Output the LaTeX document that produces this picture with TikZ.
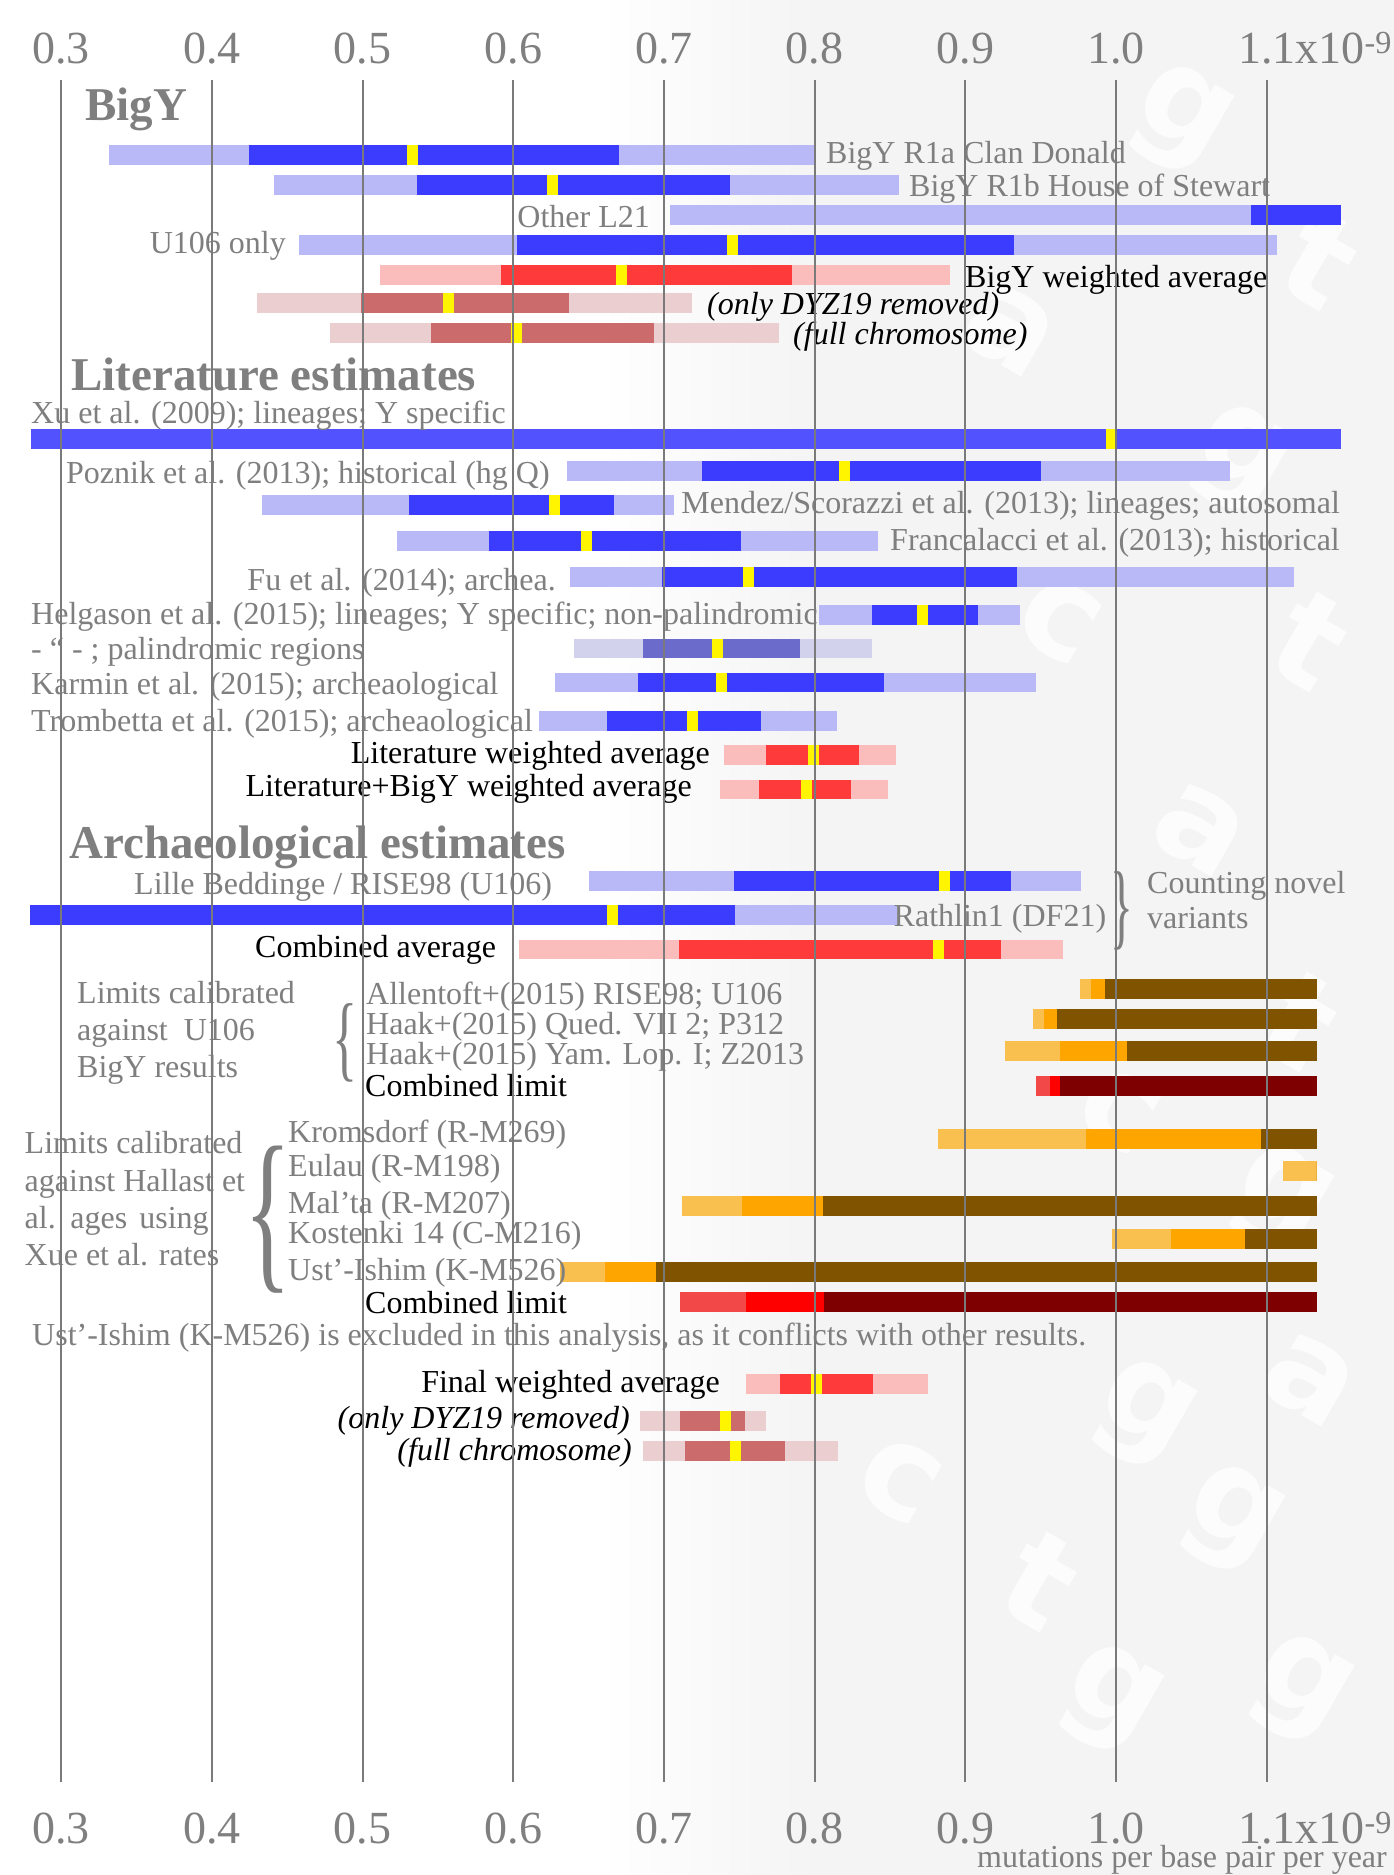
\documentclass[tikz,border=0pt]{standalone}
\usepackage{fontspec}
\setmainfont{Liberation Serif}
\newfontfamily\wmfont{DejaVu Sans}
\definecolor{darkblue}{HTML}{3C3CFF}
\definecolor{lightblue}{HTML}{B9B9F7}
\definecolor{xublue}{HTML}{5252FF}
\definecolor{palinddark}{HTML}{6B6BCB}
\definecolor{palindlight}{HTML}{D2D2EC}
\definecolor{avgred}{HTML}{FF3A3A}
\definecolor{avgpink}{HTML}{FBBCBC}
\definecolor{dustyred}{HTML}{CC6B6B}
\definecolor{dustypink}{HTML}{EBCFD0}
\definecolor{limlight}{HTML}{F9C04F}
\definecolor{limmid}{HTML}{FFA500}
\definecolor{limbrown}{HTML}{7F5300}
\definecolor{comblight}{HTML}{F24848}
\definecolor{combred}{HTML}{FF0000}
\definecolor{combdark}{HTML}{7F0000}
\definecolor{markyellow}{HTML}{FFF500}
\definecolor{txtgray}{HTML}{7F7F7F}
\definecolor{gridgray}{HTML}{7A7A7A}
\definecolor{bggray}{HTML}{F4F4F4}
\definecolor{wmwhite}{HTML}{FCFCFC}
\usetikzlibrary{positioning}

% bar: y, light left, dark left, dark right, light right, mean, light colour, dark colour
\newcommand{\ratebar}[8]{%
  \fill[#7] (#2,#1-9.6) rectangle (#5,#1+9.6);
  \fill[#8] (#3,#1-9.6) rectangle (#4,#1+9.6);
  \fill[markyellow] (#6-5.5,#1-9.6) rectangle (#6+5.5,#1+9.6);
}
% lower limit: y, light from, mid from, dark from, colours
\newcommand{\limbar}[7]{%
  \fill[#5] (#2,#1-9.6) rectangle (#3,#1+9.6);
  \fill[#6] (#3,#1-9.6) rectangle (#4,#1+9.6);
  \fill[#7] (#4,#1-9.6) rectangle (1316.6,#1+9.6);
}

\begin{document}
\begin{tikzpicture}[x=1pt, y=-1pt,
  lbl/.style={text=txtgray, inner sep=0pt, font=\fontsize{32}{37}\selectfont},
  avg/.style={text=black, inner sep=0pt, font=\fontsize{32}{37}\selectfont},
  ital/.style={avg, font=\fontsize{32}{37}\selectfont\itshape},
  ttl/.style={text=txtgray, inner sep=0pt, font=\fontsize{47}{56}\selectfont\bfseries},
  axlbl/.style={text=txtgray, inner sep=0pt, font=\fontsize{46}{55}\selectfont},
  brc/.style={text=txtgray, inner sep=0pt},
  wmark/.style={text=wmwhite, inner sep=0pt, font=\fontsize{130}{130}\wmfont\bfseries},
  gridline/.style={draw=gridgray, line width=2pt},
]
\useasboundingbox (0,0) rectangle (1394,1875);

% background
\fill[white] (0,0) rectangle (1394,1875);
\shade[left color=white, right color=bggray] (600,0) rectangle (820,1875);
\fill[bggray] (820,0) rectangle (1394,1875);
\foreach \px/\py/\ch in {1180/120/g, 1320/260/t, 1010/330/a, 1240/460/g, 1310/640/t,
  1060/620/c, 1200/830/a, 1300/1020/t, 1120/1110/c, 1280/1200/g,
  1143/1415/g, 1310/1380/a, 1040/1580/t, 1231/1520/g, 900/1480/c,
  1110/1700/g, 1300/1690/g}
  \node[wmark, rotate=-30] at (\px,\py) {\ch};

% BigY
\node[ttl, anchor=base west] (bigy) at (85,120) {BigY};
\ratebar{155}{109.4}{249}{619}{816}{412.5}{lightblue}{darkblue}
\ratebar{185}{273.7}{417}{730}{899}{552.5}{lightblue}{darkblue}
\fill[lightblue] (669.6,205.4) rectangle (1251,224.6);
\fill[darkblue] (1251,205.4) rectangle (1340.5,224.6);
\ratebar{245}{298.7}{517}{1014}{1277}{732.7}{lightblue}{darkblue}
\ratebar{275}{380}{501}{791.6}{950}{621}{avgpink}{avgred}
\ratebar{303}{257}{360.7}{568.8}{692}{448.8}{dustypink}{dustyred}
\ratebar{333}{329.5}{431}{654}{778.8}{516.5}{dustypink}{dustyred}

\node[lbl, anchor=base west] (donald) at (826,163) {BigY R1a Clan Donald};
\node[lbl, anchor=base west] (stewart) at (909,196) {BigY R1b House of Stewart};
\node[lbl, anchor=base east] (l21) at (650,227) {Other L21};
\node[lbl, anchor=base east] (u106) at (286,253) {U106 only};
\node[avg, anchor=base west] (bigyavg) at (965,287) {BigY weighted average};
\node[ital, anchor=base west] (dyz1) at (707,314) {(only DYZ19 removed)};
\node[ital, anchor=base west] (full1) at (793,344) {(full chromosome)};

% Literature
\node[ttl, anchor=base west] (lit) at (71,390) {Literature estimates};
\ratebar{439}{31}{31}{1340.5}{1340.5}{1111}{xublue}{xublue}
\ratebar{471}{567}{702}{1041}{1230}{844}{lightblue}{darkblue}
\ratebar{505}{261.6}{409}{614}{674}{554}{lightblue}{darkblue}
\ratebar{541}{397}{489}{741}{878}{586}{lightblue}{darkblue}
\ratebar{577}{570}{662}{1016.5}{1294}{748}{lightblue}{darkblue}
\ratebar{615}{818.6}{871.8}{977.6}{1020}{922.5}{lightblue}{darkblue}
\ratebar{648.5}{573.7}{643}{799.6}{872}{717}{palindlight}{palinddark}
\ratebar{682.5}{555}{637.5}{884}{1035.5}{721.7}{lightblue}{darkblue}
\ratebar{721}{539}{607}{761}{837}{692}{lightblue}{darkblue}
\ratebar{755}{723.5}{765.5}{859}{896}{813.7}{avgpink}{avgred}
\ratebar{789.5}{719.5}{759}{851}{888}{806.5}{avgpink}{avgred}

\node[lbl, anchor=base west] (xu) at (31,423) {Xu et al. (2009); lineages; Y specific};
\node[lbl, anchor=base west] (poznik) at (66,483) {Poznik et al. (2013); historical (hg Q)};
\node[lbl, anchor=base east] (mendez) at (1340,513) {Mendez/Scorazzi et al. (2013); lineages; autosomal};
\node[lbl, anchor=base west] (franc) at (890,550) {Francalacci et al. (2013); historical};
\node[lbl, anchor=base east] (fu) at (556,590) {Fu et al. (2014); archea.};
\node[lbl, anchor=base west] (helg) at (31,624) {Helgason et al. (2015); lineages; Y specific; non-palindromic};
\node[lbl, anchor=base west] (palind) at (31,659) {- “ - ; palindromic regions};
\node[lbl, anchor=base west] (karmin) at (31,694) {Karmin et al. (2015); archeaological};
\node[lbl, anchor=base west] (tromb) at (31,731) {Trombetta et al. (2015); archeaological};
\node[avg, anchor=base east] (litavg) at (710,763) {Literature weighted average};
\node[avg, anchor=base east] (litbigy) at (692,796) {Literature+BigY weighted average};

% Archaeological
\node[ttl, anchor=base west] (arch) at (69,858) {Archaeological estimates};
\ratebar{881}{589}{734}{1011}{1080.7}{944}{lightblue}{darkblue}
\ratebar{915}{29.5}{29.5}{735}{897}{612}{lightblue}{darkblue}
\ratebar{949.5}{518.8}{678.6}{1001}{1063}{938.5}{avgpink}{avgred}

\node[lbl, anchor=base west] (lille) at (134,894) {Lille Beddinge / RISE98 (U106)};
\node[lbl, anchor=base west] (rathlin) at (893.5,926) {Rathlin1 (DF21)};
\node[brc, font=\fontsize{95}{95}\selectfont, xscale=0.5] (novelbrace) at (1122,911) {\}};
\node[lbl, anchor=base west, align=left] (novel) at (1147,893) {Counting novel};
\node[lbl, anchor=base west] (novel2) at (1147,928) {variants};
\node[avg, anchor=base west] (combavg) at (255,957) {Combined average};

\limbar{989}{1080}{1091}{1104.6}{limlight}{limmid}{limbrown}
\limbar{1019}{1033}{1043.5}{1056.8}{limlight}{limmid}{limbrown}
\limbar{1051}{1005}{1059.5}{1126.7}{limlight}{limmid}{limbrown}
\limbar{1086}{1035.5}{1049.7}{1060}{comblight}{combred}{combdark}

\node[lbl, anchor=base west] (calib1) at (77,1003) {Limits calibrated};
\node[lbl, anchor=base west] (calib2) at (77,1040) {against~ U106};
\node[lbl, anchor=base west] (calib3) at (77,1077) {BigY results};
\node[brc, font=\fontsize{95}{95}\selectfont, xscale=0.55] (u106brace) at (345,1043) {\{};
\node[lbl, anchor=base west] (allen) at (366,1004) {Allentoft+(2015) RISE98; U106};
\node[lbl, anchor=base west] (qued) at (366,1034) {Haak+(2015) Qued. VII 2; P312};
\node[lbl, anchor=base west] (yam) at (366,1064) {Haak+(2015) Yam. Lop. I; Z2013};
\node[avg, anchor=base west] (comblim1) at (365,1096) {Combined limit};

\limbar{1139}{937.7}{1085.6}{1260.9}{limlight}{limmid}{limbrown}
\limbar{1171}{1283.4}{1316.6}{1316.6}{limlight}{limmid}{limbrown}
\limbar{1206}{681.7}{741.6}{822.6}{limlight}{limmid}{limbrown}
\limbar{1239}{1111.7}{1171.4}{1244.5}{limlight}{limmid}{limbrown}
\limbar{1272}{560}{605}{656}{limlight}{limmid}{limbrown}
\limbar{1302}{679.5}{745.6}{823.5}{comblight}{combred}{combdark}

\node[lbl, anchor=base west] (hall1) at (24.5,1153) {Limits calibrated};
\node[lbl, anchor=base west] (hall2) at (24.5,1191) {against Hallast et};
\node[lbl, anchor=base west] (hall3) at (24.5,1228) {al.\hspace{4pt} ages\hspace{4pt} using};
\node[lbl, anchor=base west] (hall4) at (24.5,1265) {Xue et al. rates};
\node[brc, font=\fontsize{178}{178}\selectfont, xscale=0.55] (hallbrace) at (268,1220) {\{};
\node[lbl, anchor=base west] (kroms) at (288,1142) {Kromsdorf (R-M269)};
\node[lbl, anchor=base west] (eulau) at (288,1176) {Eulau (R-M198)};
\node[lbl, anchor=base west] (malta) at (288,1213) {Mal’ta (R-M207)};
\node[lbl, anchor=base west] (kost) at (288,1243) {Kostenki 14 (C-M216)};
\node[lbl, anchor=base west] (ust) at (288,1280) {Ust’-Ishim (K-M526)};
\node[avg, anchor=base west] (comblim2) at (365,1313) {Combined limit};
\node[lbl, anchor=base west] (note) at (32,1345) {Ust’-Ishim (K-M526) is excluded in this analysis, as it conflicts with other results.};

% Final
\ratebar{1384}{745.6}{779.7}{872.6}{928}{816}{avgpink}{avgred}
\ratebar{1421}{639.7}{679.5}{745}{766.4}{725.7}{dustypink}{dustyred}
\ratebar{1451}{643}{685}{785}{838}{735.8}{dustypink}{dustyred}
\node[avg, anchor=base east] (finavg) at (720,1392) {Final weighted average};
\node[ital, anchor=base east] (dyz2) at (630,1428) {(only DYZ19 removed)};
\node[ital, anchor=base east] (full2) at (632,1460) {(full chromosome)};

% grid and axes
\foreach \i/\t in {0/0.3, 1/0.4, 2/0.5, 3/0.6, 4/0.7, 5/0.8, 6/0.9, 7/1.0, 8/1.1\rlap{x10\textsuperscript{-9}}} {
  \draw[gridline] ({61.2+\i*150.7},80) -- ({61.2+\i*150.7},1782);
  \node[axlbl, anchor=base] at ({61.2+\i*150.7},63) {\t};
  \node[axlbl, anchor=base] at ({61.2+\i*150.7},1843) {\t};
}
\node[lbl, anchor=base east] (unit) at (1387,1867) {mutations per base pair per year};

\end{tikzpicture}
\end{document}
